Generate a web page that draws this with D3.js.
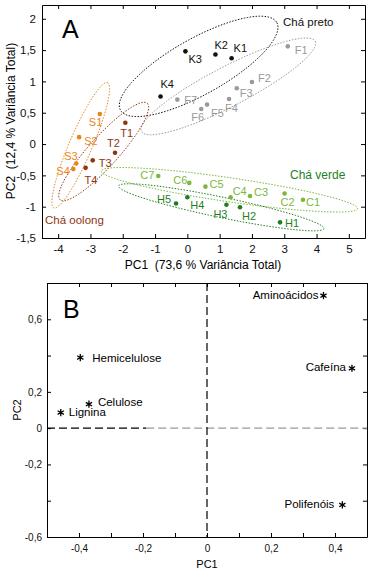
<!DOCTYPE html>
<html>
<head>
<meta charset="utf-8">
<script src="https://cdn.jsdelivr.net/npm/d3@7"></script>
<style>
  body { margin: 0; background: #fff; }
  svg { font-family: "Liberation Sans", Arial, sans-serif; }
  .axis path, .axis line { stroke: #000; }
  .axis text { fill: #111; }
</style>
</head>
<body>
<svg id="chart" width="373" height="573"></svg>
<script>
// --- panel A: PCA scores ---
const sampleNames = ["K1","K2","K3","K4","F1","F2","F3","F4","F5","F6","F7",
  "S1","S2","S3","S4","T1","T2","T3","T4",
  "C1","C2","C3","C4","C5","C6","C7","H1","H2","H3","H4","H5"];
const pc1Scores = [1.37,0.87,-0.06,-0.83, 3.11,2.0,1.53,1.29,0.61,0.43,-0.31,
  -2.71,-3.35,-3.44,-3.53, -1.92,-2.24,-2.93,-3.15,
  3.58,3.01,1.94,1.34,0.56,0.06,-0.9, 2.87,1.63,1.21,0.0,-0.35];
const pc2Scores = [1.37,1.43,1.48,0.76, 1.56,0.99,0.89,0.72,0.63,0.56,0.71,
  0.48,0.11,-0.31,-0.40, 0.34,-0.14,-0.26,-0.38,
  -0.89,-0.79,-0.83,-0.85,-0.68,-0.62,-0.51, -1.25,-1.01,-0.97,-0.85,-0.95];
const groupKeys = ["K","F","S","T","C","H"];
const groupColors = ["#111","#9a9a9a","#e8861a","#8e3612","#7cb83c","#1f7f1f"];

// confidence ellipses: centre + conjugate semi-diameters (data units)
const ellipseGroups = ["K","F","S","T","C","H"];
const ellipseCx = [0.35, 1.27, -3.30, -2.59, 1.30, 1.05];
const ellipseCy = [1.24, 0.92, -0.02, -0.12, -0.73, -1.01];
const ellipseUx = [2.42, 2.69, 0.83, 1.35, 3.97, 3.18];
const ellipseUy = [0.70, 0.72, 1.00, 0.77, -0.30, -0.34];
const ellipseVx = [0.42, 0.28, 0.33, 0.34, -0.05, -0.06];
const ellipseVy = [-0.39, -0.28, -0.07, -0.16, -0.19, -0.16];

const groupLabels = ["Chá preto","Chá verde","Chá oolong"];
const groupLabelColors = ["#111","#1f7f1f","#8e3612"];

const xTicksA = [-4,-3,-2,-1,0,1,2,3,4,5];
const yTicksA = [-1.5,-1,-0.5,0,0.5,1,1.5,2];

// --- panel B: loadings ---
const varNames = ["Hemicelulose","Celulose","Lignina","Aminoácidos","Cafeína","Polifenóis"];
const pc1Loadings = [-0.396,-0.369,-0.457,0.364,0.453,0.423];
const pc2Loadings = [0.389,0.132,0.086,0.73,0.33,-0.423];
const xTicksB = [-0.5,-0.4,-0.3,-0.2,-0.1,0,0.1,0.2,0.3,0.4,0.5];
const xLabelsB = [-0.4,-0.2,0,0.2,0.4];
const yTicksB = [-0.6,-0.4,-0.2,0,0.2,0.4,0.6,0.8];
const yLabelsB = [-0.6,-0.2,0,0.2,0.6];

const fmt = v => String(v).replace(".", ",");
const svg = d3.select("#chart");

// ================= Panel A =================
const xA = d3.scaleLinear().domain([-4.5, 5.5]).range([42, 365]);
const yA = d3.scaleLinear().domain([-1.5, 2.22]).range([238, 5]);
const gA = svg.append("g");

gA.append("g").attr("class","axis").attr("transform","translate(0,238)")
  .call(d3.axisBottom(xA).tickValues(xTicksA).tickFormat(fmt).tickSize(-4).tickSizeOuter(0).tickPadding(7))
  .selectAll("text").style("font-size","11.5px");
gA.append("g").attr("class","axis").attr("transform","translate(0,5)")
  .call(d3.axisTop(xA).tickValues(xTicksA).tickFormat("").tickSize(-4).tickSizeOuter(0));
gA.append("g").attr("class","axis").attr("transform","translate(42,0)")
  .call(d3.axisLeft(yA).tickValues(yTicksA).tickFormat(fmt).tickSize(-4).tickSizeOuter(0).tickPadding(6))
  .selectAll("text").style("font-size","11.5px");
gA.append("g").attr("class","axis").attr("transform","translate(365,0)")
  .call(d3.axisRight(yA).tickValues(yTicksA).tickFormat("").tickSize(-4).tickSizeOuter(0));

const ellLine = d3.line().curve(d3.curveLinearClosed);
const tSteps = d3.range(0, 2 * Math.PI, Math.PI / 60);
ellipseGroups.forEach((g, i) => {
  const pts = tSteps.map(t => [
    xA(ellipseCx[i] + ellipseUx[i] * Math.cos(t) + ellipseVx[i] * Math.sin(t)),
    yA(ellipseCy[i] + ellipseUy[i] * Math.cos(t) + ellipseVy[i] * Math.sin(t))
  ]);
  gA.append("path").attr("d", ellLine(pts))
    .attr("fill","none")
    .attr("stroke", groupColors[groupKeys.indexOf(g)])
    .attr("stroke-width", 1)
    .attr("stroke-dasharray","1.5,1.5");
});

// label offsets (px) relative to each point
const labelOffset = {
  K1:[2,-6],K2:[-1,-5],K3:[3,12],K4:[0,-8],
  F1:[7,8],F2:[6,0],F3:[3,9],F4:[-4,13],F5:[4,12],F6:[-10,12],F7:[7,4],
  S1:[-11,12],S2:[5,8],S3:[-12,-3],S4:[-17,6],
  T1:[-5,14],T2:[-8,-6],T3:[6,7],T4:[-1,16],
  C1:[3,6],C2:[-4,12],C3:[4,0],C4:[2,-2],C5:[4,1],C6:[-16,1],C7:[-18,3],
  H1:[5,5],H2:[2,13],H3:[-13,13],H4:[3,12],H5:[-19,-1]
};
const scores = sampleNames.map((n, i) => ({ name: n, x: pc1Scores[i], y: pc2Scores[i],
  color: groupColors[groupKeys.indexOf(n[0])] }));

gA.selectAll("circle.pt").data(scores).join("circle")
  .attr("class","pt")
  .attr("cx", d => xA(d.x)).attr("cy", d => yA(d.y)).attr("r", 2.3)
  .attr("fill", d => d.color);
gA.selectAll("text.lbl").data(scores).join("text")
  .attr("class","lbl")
  .attr("x", d => xA(d.x) + labelOffset[d.name][0])
  .attr("y", d => yA(d.y) + labelOffset[d.name][1])
  .attr("fill", d => d.color)
  .style("font-size","11px")
  .text(d => d.name);

gA.append("text").attr("x", 283).attr("y", 26).attr("fill", groupLabelColors[0])
  .style("font-size","11.5px").text(groupLabels[0]);
gA.append("text").attr("x", 290).attr("y", 179).attr("fill", groupLabelColors[1])
  .style("font-size","12px").text(groupLabels[1]);
gA.append("text").attr("x", 45).attr("y", 224).attr("fill", groupLabelColors[2])
  .style("font-size","11.5px").text(groupLabels[2]);

gA.append("text").attr("x", 62).attr("y", 38).style("font-size","25px").text("A");
gA.append("text").attr("x", 203).attr("y", 269).attr("text-anchor","middle")
  .style("font-size","12px").attr("xml:space","preserve").text("PC1  (73,6 % Variância Total)");
gA.append("text").attr("transform","translate(15,121) rotate(-90)").attr("text-anchor","middle")
  .style("font-size","12px").attr("xml:space","preserve").text("PC2  (12,4 % Variância Total)");

// ================= Panel B =================
const xB = d3.scaleLinear().domain([-0.5, 0.5]).range([47, 367]);
const yB = d3.scaleLinear().domain([-0.6, 0.8]).range([537, 283]);
const gB = svg.append("g");
const fmtB = v => xLabelsB.concat(yLabelsB).some(l => Math.abs(l - v) < 1e-9) ? fmt(+v.toFixed(1)) : "";

gB.append("g").attr("class","axis").attr("transform","translate(0,537)")
  .call(d3.axisBottom(xB).tickValues(xTicksB).tickFormat(v => xLabelsB.some(l => Math.abs(l - v) < 1e-9) ? fmt(+v.toFixed(1)) : "")
    .tickSize(-4).tickSizeOuter(0).tickPadding(8))
  .selectAll("text").style("font-size","10px");
gB.append("g").attr("class","axis").attr("transform","translate(0,283)")
  .call(d3.axisTop(xB).tickValues(xTicksB).tickFormat("").tickSize(-4).tickSizeOuter(0));
gB.append("g").attr("class","axis").attr("transform","translate(47,0)")
  .call(d3.axisLeft(yB).tickValues(yTicksB).tickFormat(v => yLabelsB.some(l => Math.abs(l - v) < 1e-9) ? fmt(+v.toFixed(1)) : "")
    .tickSize(-4).tickSizeOuter(0).tickPadding(5))
  .selectAll("text").style("font-size","10px");
gB.append("g").attr("class","axis").attr("transform","translate(367,0)")
  .call(d3.axisRight(yB).tickValues(yTicksB).tickFormat("").tickSize(-4).tickSizeOuter(0));

// zero reference lines
gB.append("line").attr("x1", xB(-0.5)).attr("x2", xB(-0.19)).attr("y1", yB(0)).attr("y2", yB(0))
  .attr("stroke","#000").attr("stroke-width",1.2).attr("stroke-dasharray","8,4");
gB.append("line").attr("x1", xB(-0.19)).attr("x2", xB(0.5)).attr("y1", yB(0)).attr("y2", yB(0))
  .attr("stroke","#999").attr("stroke-width",1.2).attr("stroke-dasharray","8,4");
gB.append("line").attr("x1", xB(0)).attr("x2", xB(0)).attr("y1", yB(0.8)).attr("y2", yB(-0.6))
  .attr("stroke","#000").attr("stroke-width",1.2).attr("stroke-dasharray","8,4");

const loadOffset = {
  "Hemicelulose":[12,4,"start"], "Celulose":[9,2,"start"], "Lignina":[8,3,"start"],
  "Aminoácidos":[-5,3,"end"], "Cafeína":[-6,3,"end"], "Polifenóis":[-8,3,"end"]
};
const loads = varNames.map((n, i) => ({ name: n, x: pc1Loadings[i], y: pc2Loadings[i] }));
const star = d3.symbol().type(d3.symbolAsterisk).size(36);
gB.selectAll("path.star").data(loads).join("path")
  .attr("class","star")
  .attr("transform", d => `translate(${xB(d.x)},${yB(d.y)})`)
  .attr("d", star).attr("fill","none").attr("stroke","#000").attr("stroke-width",1.3);
gB.selectAll("text.lbl").data(loads).join("text")
  .attr("class","lbl")
  .attr("x", d => xB(d.x) + loadOffset[d.name][0])
  .attr("y", d => yB(d.y) + loadOffset[d.name][1])
  .attr("text-anchor", d => loadOffset[d.name][2])
  .style("font-size","11.5px")
  .text(d => d.name);

gB.append("text").attr("x", 63).attr("y", 318).style("font-size","25px").text("B");
gB.append("text").attr("x", 207).attr("y", 568).attr("text-anchor","middle")
  .style("font-size","11px").text("PC1");
gB.append("text").attr("transform","translate(21,410) rotate(-90)").attr("text-anchor","middle")
  .style("font-size","11px").text("PC2");
</script>
</body>
</html>
